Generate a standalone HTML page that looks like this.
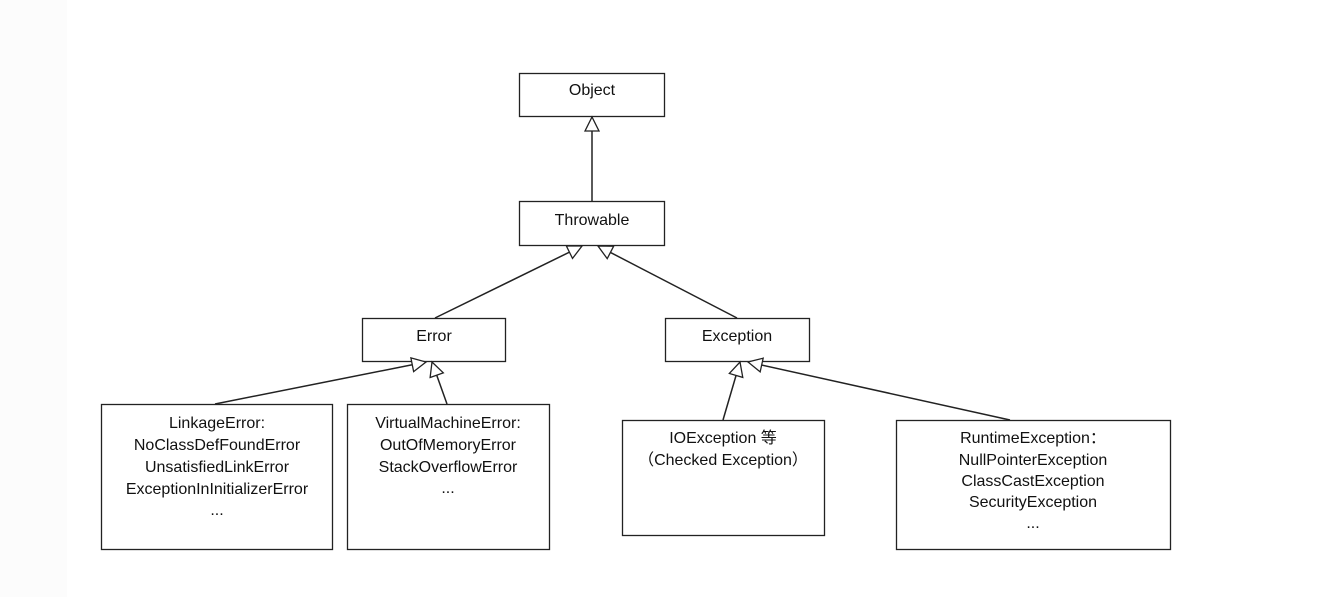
<!DOCTYPE html>
<html><head><meta charset="utf-8"><style>
body{margin:0;background:#fff;}
svg{display:block}
text{font-family:"Liberation Sans","Noto Sans CJK SC",sans-serif;font-size:16px;fill:#111;text-anchor:middle;dominant-baseline:middle}
</style></head><body>
<svg width="1339" height="597" viewBox="0 0 1339 597">
<defs>
<marker id="a" markerWidth="18" markerHeight="18" refX="15" refY="8" orient="auto" markerUnits="userSpaceOnUse">
<path d="M1,1 L15,8 L1,15 Z" fill="#fff" stroke="#222" stroke-width="1.3"/>
</marker>
</defs>
<rect x="0" y="0" width="67" height="597" fill="#fcfcfc"/>
<g fill="#fff" stroke="#222" stroke-width="1.3">
<rect x="519.5" y="73.5" width="145" height="43"/>
<rect x="519.5" y="201.5" width="145" height="44"/>
<rect x="362.5" y="318.5" width="143" height="43"/>
<rect x="665.5" y="318.5" width="144" height="43"/>
<rect x="101.5" y="404.5" width="231" height="145"/>
<rect x="347.5" y="404.5" width="202" height="145"/>
<rect x="622.5" y="420.5" width="202" height="115"/>
<rect x="896.5" y="420.5" width="274" height="129"/>
</g>
<g stroke="#222" stroke-width="1.5" fill="none">
<line x1="592" y1="201" x2="592" y2="117" marker-end="url(#a)"/>
<line x1="435" y1="318" x2="582" y2="246" marker-end="url(#a)"/>
<line x1="737" y1="318" x2="598" y2="246" marker-end="url(#a)"/>
<line x1="215" y1="404" x2="426" y2="362" marker-end="url(#a)"/>
<line x1="447" y1="404" x2="432" y2="362" marker-end="url(#a)"/>
<line x1="723" y1="420" x2="740" y2="362" marker-end="url(#a)"/>
<line x1="1010" y1="420" x2="748" y2="362" marker-end="url(#a)"/>
</g>
<text x="592" y="91">Object</text>
<text x="592" y="221">Throwable</text>
<text x="434" y="337">Error</text>
<text x="737" y="337">Exception</text>
<text x="217" y="424">LinkageError:</text>
<text x="217" y="446">NoClassDefFoundError</text>
<text x="217" y="468">UnsatisfiedLinkError</text>
<text x="217" y="490">ExceptionInInitializerError</text>
<text x="217" y="511">...</text>
<text x="448" y="424">VirtualMachineError:</text>
<text x="448" y="446">OutOfMemoryError</text>
<text x="448" y="468">StackOverflowError</text>
<text x="448" y="489">...</text>
<text x="723" y="439">IOException 等</text>
<text x="723" y="461">（Checked Exception）</text>
<text x="1033" y="439">RuntimeException：</text>
<text x="1033" y="461">NullPointerException</text>
<text x="1033" y="482">ClassCastException</text>
<text x="1033" y="503">SecurityException</text>
<text x="1033" y="524">...</text>
</svg>
</body></html>
